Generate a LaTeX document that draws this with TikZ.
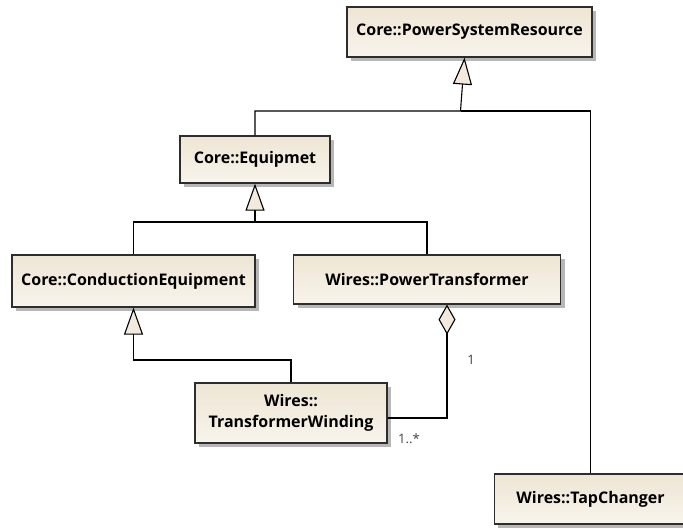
\documentclass[tikz,border=0pt]{standalone}
\usepackage{fontspec}
\setmainfont{Open Sans}
\usetikzlibrary{arrows.meta,shadows}
\definecolor{umlfill}{RGB}{242,235,221}
\definecolor{umltop}{RGB}{238,229,212}
\definecolor{umlbot}{RGB}{248,244,236}
\definecolor{umlline}{RGB}{45,45,45}
\tikzset{
  cls/.style={draw=umlline, line width=1.2pt, top color=umltop, bottom color=umlbot,
    align=center, font=\fontsize{16}{21}\selectfont\bfseries, inner sep=0pt,
    drop shadow={shadow xshift=4pt, shadow yshift=-4pt, fill=black!40, opacity=.7}},
  gen/.style={-{Triangle[length=27pt,width=19pt,fill=umlfill]}, line width=1.1pt},
  agg/.style={{Diamond[length=30pt,width=17pt,fill=umlfill]}-, line width=1.1pt},
  conn/.style={line width=1.1pt},
  mult/.style={font=\fontsize{13}{15}\selectfont, text=black!75, inner sep=0pt}
}
\begin{document}
\begin{tikzpicture}[x=1pt,y=-1pt]
  \useasboundingbox[fill=white] (0,0) rectangle (683,531);
  % classes
  \node[cls, minimum width=245pt, minimum height=50pt] (psr) at (469.5,32) {Core::PowerSystemResource};
  \node[cls, minimum width=150pt, minimum height=47pt] (eq) at (255,159.5) {Core::Equipmet};
  \node[cls, minimum width=243pt, minimum height=52pt] (ce) at (133.5,281) {Core::ConductionEquipment};
  \node[cls, minimum width=267pt, minimum height=49pt] (pt) at (427,279.5) {Wires::PowerTransformer};
  \node[cls, minimum width=192pt, minimum height=60pt] (tw) at (291,413) {Wires::\\TransformerWinding};
  \node[cls, minimum width=193pt, minimum height=50pt] (tap) at (590.6,499) {Wires::TapChanger};
  % bends
  \coordinate (j1) at (460.5,111);
  \coordinate (j2) at (255,222);
  \coordinate (j3) at (133.5,360);
  % generalizations
  \draw[gen] (eq.north) |- (j1) -- ([xshift=-5pt]psr.south);
  \draw[conn] (tap.north) |- (j1);
  \draw[gen] (ce.north) |- (j2) -- (eq.south);
  \draw[conn] (pt.north) |- (j2);
  \draw[gen] (tw.north) |- (j3) -- (ce.south);
  % aggregation
  \draw[agg] ([xshift=20pt]pt.south) |- ([yshift=-5pt]tw.east);
  \node[mult] (m1) at (471,360) {1};
  \node[mult] (m2) at (409,439) {1..*};
\end{tikzpicture}
\end{document}
